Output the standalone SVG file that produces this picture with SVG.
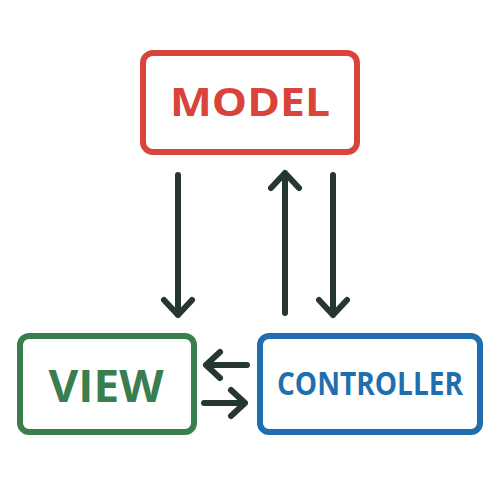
<svg xmlns="http://www.w3.org/2000/svg" width="500" height="500" viewBox="0 0 500 500">
<defs>
<style>
.box{fill:#fff;stroke-width:6}
.lbl{font-family:"Open Sans","Noto Sans","DejaVu Sans",sans-serif;font-weight:700;text-anchor:middle}
.ln{fill:none;stroke:#263630;stroke-width:6;stroke-linecap:round;stroke-linejoin:round}
</style>
</defs>
<rect width="500" height="500" fill="#fff"/>
<g id="model">
<rect class="box" x="143" y="53" width="214" height="99" rx="10" stroke="#d8443a"/>
<text class="lbl" x="250" y="116" font-size="40" fill="#d8443a" textLength="160" lengthAdjust="spacingAndGlyphs">MODEL</text>
</g>
<g id="view">
<rect class="box" x="20" y="336" width="174" height="96" rx="9" stroke="#3a7e50"/>
<text class="lbl" x="106" y="402" font-size="44" fill="#3a7e50" textLength="115" lengthAdjust="spacingAndGlyphs">VIEW</text>
</g>
<g id="controller">
<rect class="box" x="260" y="336" width="220" height="96" rx="9" stroke="#1f6fb0"/>
<text class="lbl" x="370" y="395" font-size="32" fill="#1f6fb0" textLength="186" lengthAdjust="spacingAndGlyphs">CONTROLLER</text>
</g>
<g id="connectors">
<path class="ln" d="M178 175V315M164 300L178 315L192 300"/>
<path class="ln" d="M285 313V173M271 188L285 173L299 188"/>
<path class="ln" d="M333 175V315M319 300L333 315L347 300"/>
<path class="ln" d="M247 365H206M220 352L206 365L220 378"/>
<path class="ln" d="M204 403H245M231 390L245 403L231 416"/>
</g>
</svg>
